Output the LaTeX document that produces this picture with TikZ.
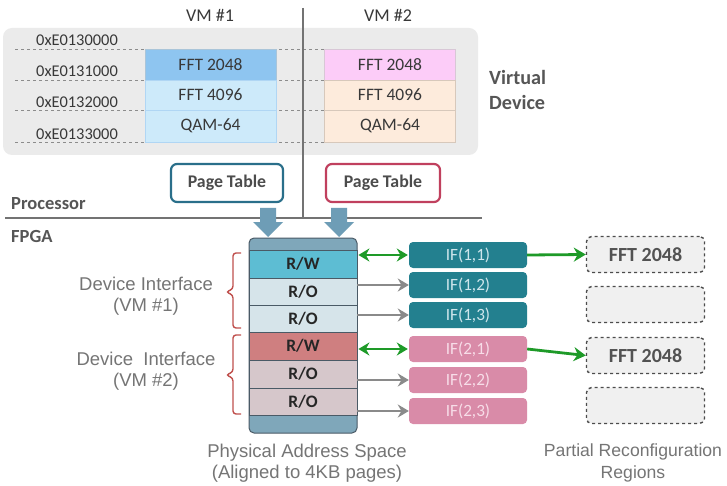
\documentclass[tikz,border=0pt]{standalone}
\usepackage{fontspec}
\setmainfont{Carlito}
\newfontfamily\arialf{Liberation Sans}
\usetikzlibrary{arrows.meta}
\definecolor{panel}{HTML}{EBEBEB}
\definecolor{txt}{HTML}{383838}
\definecolor{vmAa}{HTML}{8EC5F0}
\definecolor{vmAb}{HTML}{CDEAFA}
\definecolor{vmBa}{HTML}{FCCCF8}
\definecolor{vmBb}{HTML}{FDEBDC}
\definecolor{ptblue}{HTML}{2A6F8A}
\definecolor{ptred}{HTML}{C0405E}
\definecolor{blk}{HTML}{6E9DB6}
\definecolor{stk}{HTML}{7FA7BA}
\definecolor{stkb}{HTML}{4A5A66}
\definecolor{rwA}{HTML}{5DBDD3}
\definecolor{roA}{HTML}{D6E4EA}
\definecolor{rwB}{HTML}{CF7F80}
\definecolor{roB}{HTML}{D6C7CB}
\definecolor{ifA}{HTML}{23808F}
\definecolor{ifAt}{HTML}{CFE6EC}
\definecolor{ifB}{HTML}{D98BA8}
\definecolor{ifBt}{HTML}{F7DDE8}
\definecolor{grn}{HTML}{1E9A28}
\definecolor{gar}{HTML}{8A8A8A}
\definecolor{brc}{HTML}{C0504D}
\definecolor{lbl}{HTML}{757575}
\begin{document}
\begin{tikzpicture}[x=1pt,y=-1pt,
  addr/.style={anchor=west,inner sep=0pt,text=txt,font=\fontsize{16.4}{18}\selectfont},
  cell/.style={minimum width=131pt,inner sep=0pt,text=txt,font=\fontsize{17.5}{19}\selectfont},
  hdr/.style={text=txt,font=\fontsize{18}{20}\selectfont},
  boldlbl/.style={text=txt!85,font=\bfseries\fontsize{18.5}{20}\selectfont,inner sep=0pt},
  ptbox/.style={draw,line width=2.2pt,rounded corners=6pt,minimum height=38pt,text=txt!90,font=\bfseries\fontsize{17.8}{19}\selectfont},
  rowc/.style={draw=stkb,line width=0.8pt,minimum width=108pt,inner sep=0pt,text=black!85,font=\bfseries\fontsize{17.5}{19}\selectfont},
  ifbox/.style={rounded corners=4pt,minimum width=118pt,minimum height=26pt,inner sep=0pt,font=\fontsize{17.2}{19}\selectfont},
  prbox/.style={draw=black!70,dashed,line width=1.4pt,rounded corners=5pt,fill=black!6,minimum width=118pt,minimum height=36pt,text=black!68,font=\bfseries\fontsize{20}{22}\selectfont},
  side/.style={text=lbl,align=center,font=\arialf\fontsize{18.5}{21.5}\selectfont},
  dline/.style={draw=black!45,dashed,line width=0.6pt},
  grnarr/.style={draw=grn,line width=2.8pt,-{Stealth[length=12pt,width=14pt]}},
  grnbi/.style={draw=grn,line width=2.8pt,{Stealth[length=11pt,width=13pt]}-{Stealth[length=11pt,width=13pt]}},
  grayarr/.style={draw=gar,line width=2.8pt,-{Stealth[length=11pt,width=13pt]}},
  brace/.style={draw=brc,line width=1.4pt,rounded corners=3pt}
]
\useasboundingbox (0,0) rectangle (727,486);
\fill[white] (0,0) rectangle (727,486);

% virtual panel
\fill[panel,rounded corners=9pt] (3,28) rectangle (478,155);
\node[hdr] (vm1) at (210,15) {VM \#1};
\node[hdr] (vm2) at (388,15) {VM \#2};

\foreach \yy in {49,80,110,142} {\draw[dline] (15,\yy) -- (325,\yy);}

\node[addr] (a0) at (36,40) {0xE0130000};
\node[addr] (a1) at (36,71) {0xE0131000};
\node[addr] (a2) at (36,102) {0xE0132000};
\node[addr] (a3) at (36,134) {0xE0133000};

\node[cell,fill=vmAa,draw=vmAa!80!black!60,minimum height=31pt] (c11) at (210.5,64.5) {FFT 2048};
\node[cell,fill=vmAb,draw=vmAa!70,minimum height=30pt] (c12) at (210.5,95) {FFT 4096};
\node[cell,fill=vmAb,draw=vmAa!70,minimum height=32pt] (c13) at (210.5,126) {QAM-64};
\node[cell,fill=vmBa,draw=vmBa!70!black!50,minimum height=31pt] (c21) at (390,64.5) {FFT 2048};
\node[cell,fill=vmBb,draw=vmBb!85!black,minimum height=30pt] (c22) at (390,95) {FFT 4096};
\node[cell,fill=vmBb,draw=vmBb!85!black,minimum height=32pt] (c23) at (390,126) {QAM-64};

\node[boldlbl,font=\bfseries\fontsize{20.2}{25}\selectfont,align=left,anchor=west] (vd) at (489,90) {Virtual\\Device};

% separators
\draw[black!55,line width=1.2pt] (303,8) -- (303,218);
\draw[black!55,line width=1.2pt] (5,218) -- (482,218);

\node[ptbox,draw=ptblue,minimum width=112pt] (pt1) at (227,183) {Page Table};
\node[ptbox,draw=ptred,minimum width=114pt] (pt2) at (383,183) {Page Table};

\node[boldlbl,anchor=west] (proc) at (11,204) {Processor};
\node[boldlbl,anchor=west] (fpga) at (11,236) {FPGA};

% block arrows
\foreach \cx in {268,339} {
  \fill[blk] (\cx-8,208) -- (\cx+8,208) -- (\cx+8,222) -- (\cx+15,222) -- (\cx,237) -- (\cx-15,222) -- (\cx-8,222) -- cycle;
}

% physical address stack
\draw[stkb,fill=stk,line width=1pt,rounded corners=5pt] (249,238) rectangle (357,433);
\node[rowc,fill=rwA,minimum height=28pt] (rw1) at (303,264) {R/W};
\node[rowc,fill=roA,minimum height=27pt] (ro11) at (303,291.5) {R/O};
\node[rowc,fill=roA,minimum height=27pt] (ro12) at (303,318.5) {R/O};
\node[rowc,fill=rwB,minimum height=28pt] (rw2) at (303,346) {R/W};
\node[rowc,fill=roB,minimum height=28pt] (ro21) at (303,374) {R/O};
\node[rowc,fill=roB,minimum height=27pt] (ro22) at (303,401.5) {R/O};

% IF boxes
\node[ifbox,fill=ifA,text=ifAt] (if11) at (468,255) {IF(1,1)};
\node[ifbox,fill=ifA,text=ifAt] (if12) at (468,285) {IF(1,2)};
\node[ifbox,fill=ifA,text=ifAt] (if13) at (468,315) {IF(1,3)};
\node[ifbox,fill=ifB,text=ifBt] (if21) at (468,349) {IF(2,1)};
\node[ifbox,fill=ifB,text=ifBt] (if22) at (468,380) {IF(2,2)};
\node[ifbox,fill=ifB,text=ifBt] (if23) at (468,411) {IF(2,3)};

% PR boxes
\node[prbox] (pr1) at (645.5,254.5) {FFT 2048};
\node[prbox] (pr2) at (645.5,304.5) {};
\node[prbox] (pr3) at (645.5,355.5) {FFT 2048};
\node[prbox] (pr4) at (645.5,405.5) {};

% arrows stack -> IF
\draw[grnbi] ([xshift=1pt]rw1.east |- if11.west) -- ([xshift=-1pt]if11.west);
\draw[grayarr] (ro11.east |- if12.west) -- (if12.west);
\draw[grayarr] (ro12.east |- if13.west) -- (if13.west);
\draw[grnbi] ([xshift=1pt]rw2.east |- if21.west) -- ([xshift=-1pt]if21.west);
\draw[grayarr] (ro21.east |- if22.west) -- (if22.west);
\draw[grayarr] (ro22.east |- if23.west) -- (if23.west);

% IF -> PR
\draw[grnarr] (if11.east) -- (pr1.west);
\draw[grnarr] (if21.east) -- (pr3.west);

% braces
\draw[brace] (241,253) -- (233,253) -- (233,289) -- (226,292) -- (233,295) -- (233,328) -- (241,328);
\draw[brace] (241,335) -- (233,335) -- (233,372) -- (226,375) -- (233,378) -- (233,414) -- (241,414);

% labels
\node[side] (di1) at (146,296) {Device Interface\\(VM \#1)};
\node[side] (di2) at (146,371) {Device\ \ Interface\\(VM \#2)};
\node[side] (pas) at (307,463) {Physical Address Space\\(Aligned to 4KB pages)};
\node[side,font=\arialf\fontsize{17.6}{21.5}\selectfont] (prr) at (633,463) {Partial Reconfiguration\\Regions};
\end{tikzpicture}
\end{document}
